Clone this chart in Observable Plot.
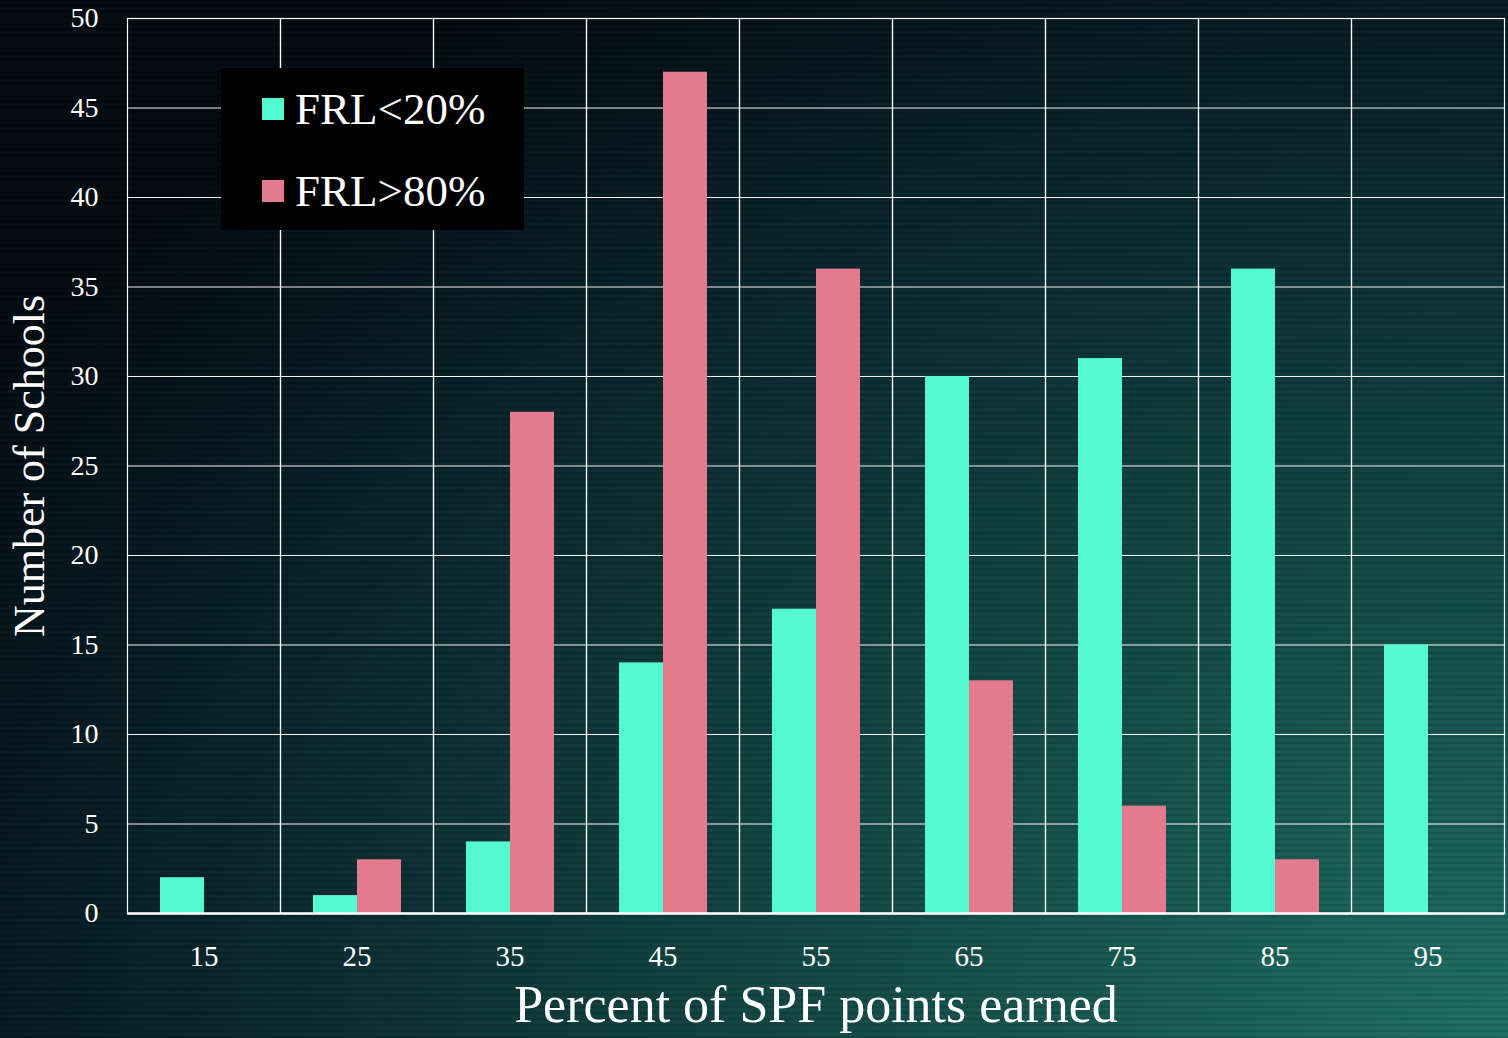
<!DOCTYPE html>
<html><head><meta charset="utf-8">
<script src="https://cdn.jsdelivr.net/npm/d3@7"></script>
<script src="https://cdn.jsdelivr.net/npm/@observablehq/plot@0.6"></script>
<style>
html,body{margin:0;padding:0;background:#04121a;}
#wrap{position:relative;width:1508px;height:1038px;overflow:hidden;
 background:
  repeating-linear-gradient(0deg, rgba(0,0,0,0.10) 0px, rgba(0,0,0,0.10) 2px, rgba(255,255,255,0.015) 3px, rgba(0,0,0,0) 6px),
  radial-gradient(ellipse 1800px 1250px at 100% 100%, #1f7065 0%, #175750 25%, #10403f 48%, #0a2a30 68%, #061820 85%, #030b10 100%);}
#chart{position:absolute;left:0;top:0;}
#legend{position:absolute;left:221px;top:68px;width:303px;height:162px;background:#000;
 font-family:"Liberation Serif",serif;color:#fff;font-size:45px;}
.item{position:absolute;left:41px;display:flex;align-items:center;}
.sw{width:22px;height:22px;margin-right:11px;}
</style></head>
<body><div id="wrap"><div id="chart"></div>
<div id="legend"></div></div>
<script>
const categories = ["15","25","35","45","55","65","75","85","95"];
const seriesNames = ["FRL<20%","FRL>80%"];
const frlLow = [2,1,4,14,17,30,31,36,15];
const frlHigh = [0,3,28,47,36,13,6,3,0];
const seriesColors = ["#55F9CF","#E47A8E"];
const yTicks = [0,5,10,15,20,25,30,35,40,45,50];

const data = [];
categories.forEach((c,i)=>{
  data.push({cat:c, series:seriesNames[0], value:frlLow[i]});
  data.push({cat:c, series:seriesNames[1], value:frlHigh[i]});
});

const font = "'Liberation Serif', serif";
const chart = Plot.plot({
  width:1508, height:1038,
  marginLeft:126, marginRight:4, marginTop:18, marginBottom:125,
  style:{background:"transparent", color:"#fff", fontFamily:font, fontSize:"28px"},
  fx:{domain:categories, padding:0, axis:null},
  x:{domain:seriesNames, paddingInner:0, paddingOuter:0.735, axis:null},
  y:{domain:[0,50], ticks:yTicks, grid:false, label:null, axis:null},
  color:{domain:seriesNames, range:seriesColors},
  marks:[
    Plot.gridY(yTicks, {stroke:"#fff", strokeOpacity:0.95, strokeWidth:1.2}),
    Plot.frame({stroke:"#fff", strokeWidth:1.2}),
    Plot.barY(data, {fx:"cat", x:"series", y:"value", fill:"series", inset:0}),
    Plot.ruleY([0], {stroke:"#fff", strokeWidth:2.5}),
    Plot.axisY(yTicks, {anchor:"left", tickSize:0, tickPadding:29, fontSize:28, label:null}),
    Plot.axisFx({anchor:"bottom", tickSize:0, tickPadding:32, fontSize:29, label:"Percent of SPF points earned", labelAnchor:"center", labelOffset:108})
  ]
});
document.getElementById("chart").appendChild(chart);

const svg = d3.select(chart);
svg.selectAll("[aria-label='fx-axis label'] text, [aria-label='fx-axis label']").style("font-size","52px");
svg.append("text")
  .attr("transform","translate(34,466) rotate(-90)")
  .attr("text-anchor","middle").attr("dominant-baseline","middle")
  .attr("fill","#fff").style("font-family",font).style("font-size","44px")
  .text("Number of Schools");

const leg = document.getElementById("legend");
seriesNames.forEach((s,i)=>{
  const it = document.createElement("div");
  it.className="item"; it.style.top = (i===0? 15: 97)+"px";
  it.innerHTML = `<div class="sw" style="background:${seriesColors[i]}"></div><span>${s.replace("<","&lt;").replace(">","&gt;")}</span>`;
  leg.appendChild(it);
});
</script></body></html>
